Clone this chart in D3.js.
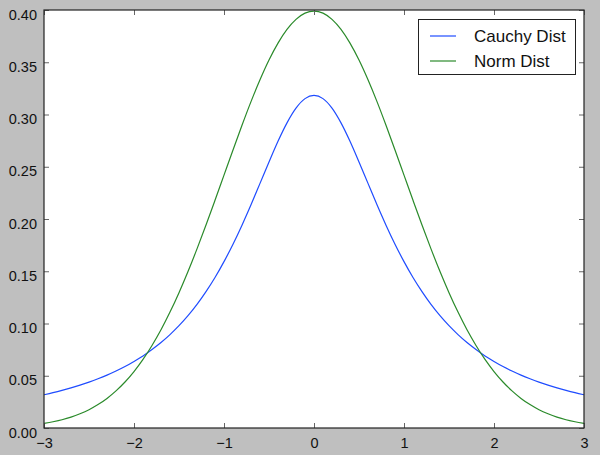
<!DOCTYPE html>
<html><head><meta charset="utf-8">
<script src="https://cdn.jsdelivr.net/npm/d3@7"></script>
<style>html,body{margin:0;padding:0;background:#bfbfbf;}svg{display:block;font-family:"Liberation Sans",Arial,sans-serif;}</style>
</head><body><svg id="c" width="600" height="455"></svg>
<script>
const xValues = [-3.0,-2.9,-2.8,-2.7,-2.6,-2.5,-2.4,-2.3,-2.2,-2.1,-2.0,-1.9,-1.8,-1.7,-1.6,-1.5,-1.4,-1.3,-1.2,-1.1,-1.0,-0.9,-0.8,-0.7,-0.6,-0.5,-0.4,-0.3,-0.2,-0.1,0.0,0.1,0.2,0.3,0.4,0.5,0.6,0.7,0.8,0.9,1.0,1.1,1.2,1.3,1.4,1.5,1.6,1.7,1.8,1.9,2.0,2.1,2.2,2.3,2.4,2.5,2.6,2.7,2.8,2.9,3.0];
const cauchyValues = [0.0318,0.0338,0.0360,0.0384,0.0410,0.0439,0.0471,0.0506,0.0545,0.0588,0.0637,0.0690,0.0751,0.0818,0.0894,0.0979,0.1075,0.1183,0.1305,0.1440,0.1592,0.1759,0.1941,0.2136,0.2341,0.2546,0.2744,0.2920,0.3061,0.3152,0.3183,0.3152,0.3061,0.2920,0.2744,0.2546,0.2341,0.2136,0.1941,0.1759,0.1592,0.1440,0.1305,0.1183,0.1075,0.0979,0.0894,0.0818,0.0751,0.0690,0.0637,0.0588,0.0545,0.0506,0.0471,0.0439,0.0410,0.0384,0.0360,0.0338,0.0318];
const normValues = [0.0044,0.0060,0.0079,0.0104,0.0136,0.0175,0.0224,0.0283,0.0355,0.0440,0.0540,0.0656,0.0790,0.0940,0.1109,0.1295,0.1497,0.1714,0.1942,0.2179,0.2420,0.2661,0.2897,0.3123,0.3332,0.3521,0.3683,0.3814,0.3910,0.3970,0.3989,0.3970,0.3910,0.3814,0.3683,0.3521,0.3332,0.3123,0.2897,0.2661,0.2420,0.2179,0.1942,0.1714,0.1497,0.1295,0.1109,0.0940,0.0790,0.0656,0.0540,0.0440,0.0355,0.0283,0.0224,0.0175,0.0136,0.0104,0.0079,0.0060,0.0044];
const seriesNames = ["Cauchy Dist","Norm Dist"];
const seriesColors = ["#1f4cff","#2a8a2a"];
const xTicks = [-3,-2,-1,0,1,2,3];
const xTickLabels = ["\u22123","\u22122","\u22121","0","1","2","3"];
const yTicks = [0,0.05,0.1,0.15,0.2,0.25,0.3,0.35,0.4];
const yTickLabels = ["0.00","0.05","0.10","0.15","0.20","0.25","0.30","0.35","0.40"];

const L=44,R=584,T=10,B=428;
const svg=d3.select("#c");
const x=d3.scaleLinear().domain([-3,3]).range([L,R]);
const y=d3.scaleLinear().domain([0,0.4]).range([B,T]);

svg.append("rect").attr("x",L).attr("y",T).attr("width",R-L).attr("height",B-T).attr("fill","#fff");

svg.append("clipPath").attr("id","clp").append("rect").attr("x",L).attr("y",T).attr("width",R-L).attr("height",B-T);

const line=d3.line().x((d,i)=>x(xValues[i])).y(d=>y(d)).curve(d3.curveMonotoneX);
[cauchyValues,normValues].forEach((vals,k)=>{
  svg.append("path").attr("d",line(vals)).attr("fill","none").attr("stroke",seriesColors[k]).attr("stroke-width",1.2).attr("clip-path","url(#clp)");
});

const tl=5;
const gx=svg.append("g").attr("transform",`translate(0,${B})`).call(d3.axisBottom(x).tickValues(xTicks).tickSize(-tl).tickPadding(10).tickFormat((d,i)=>xTickLabels[i]));
const gxt=svg.append("g").attr("transform",`translate(0,${T})`).call(d3.axisTop(x).tickValues(xTicks).tickSize(-tl).tickFormat(""));
const gy=svg.append("g").attr("transform",`translate(${L},0)`).call(d3.axisLeft(y).tickValues(yTicks).tickSize(-tl).tickPadding(7).tickFormat((d,i)=>yTickLabels[i]));
const gyr=svg.append("g").attr("transform",`translate(${R},0)`).call(d3.axisRight(y).tickValues(yTicks).tickSize(-tl).tickFormat(""));
[gx,gxt,gy,gyr].forEach(g=>{
  g.select(".domain").remove();
  g.selectAll(".tick line").attr("stroke","#666");
  g.selectAll(".tick text").attr("fill","#111").attr("font-size",14.5).attr("font-family","'Liberation Sans',Arial,sans-serif");
});
gy.selectAll(".tick text").attr("dy","0.62em");
gx.selectAll(".tick text").attr("dy","0.72em");

svg.append("rect").attr("x",L).attr("y",T).attr("width",R-L).attr("height",B-T).attr("fill","none").attr("stroke","#222").attr("stroke-width",1.2);

const lg=svg.append("g");
lg.append("rect").attr("x",418.5).attr("y",19.5).attr("width",157).attr("height",55).attr("fill","#fff").attr("stroke","#222").attr("stroke-width",1);
seriesNames.forEach((n,i)=>{
  const yy=36+i*25;
  lg.append("line").attr("x1",430).attr("x2",456).attr("y1",yy).attr("y2",yy).attr("stroke",seriesColors[i]).attr("stroke-width",1.2);
  lg.append("text").attr("x",474).attr("y",yy).attr("dy","0.36em").attr("font-size",17).attr("fill","#111").text(n);
});
</script></body></html>
